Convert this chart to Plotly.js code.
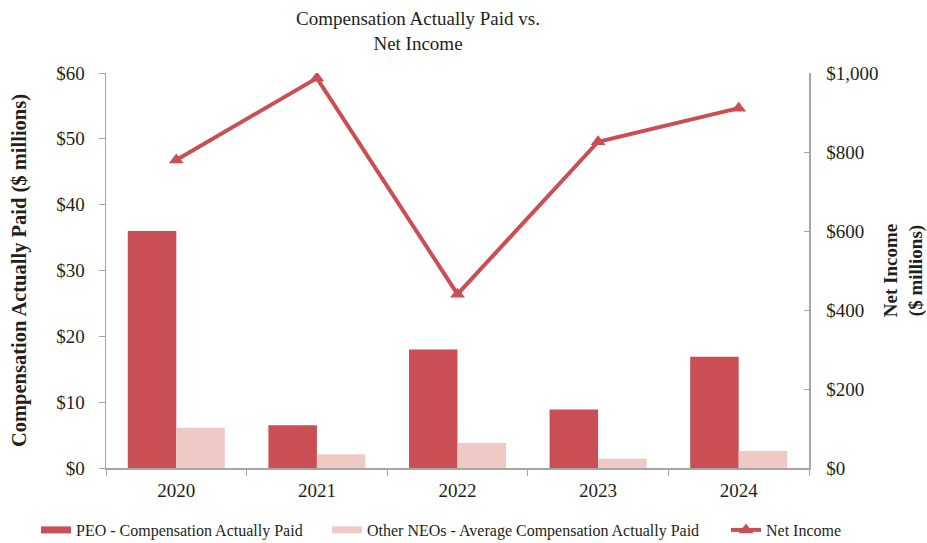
<!DOCTYPE html>
<html>
<head>
<meta charset="utf-8">
<script src="https://cdn.plot.ly/plotly-3.0.1.min.js"></script>
<style>html,body{margin:0;padding:0;background:#fff}#chart{width:927px;height:543px}</style>
</head>
<body>
<div id="chart"></div>
<script>
var years = ["2020", "2021", "2022", "2023", "2024"];
var peoCap = [36.0, 6.5, 18.0, 8.9, 16.9];
var otherNeoCap = [6.1, 2.1, 3.8, 1.4, 2.6];
var netIncome = [780, 987, 440, 826, 911];
var leftTicks = [0, 10, 20, 30, 40, 50, 60];
var leftTickText = ["$0", "$10", "$20", "$30", "$40", "$50", "$60"];
var rightTicks = [0, 200, 400, 600, 800, 1000];
var rightTickText = ["$0", "$200", "$400", "$600", "$800", "$1,000"];
var seriesNames = ["PEO - Compensation Actually Paid", "Other NEOs - Average Compensation Actually Paid", "Net Income"];

var serif = "Liberation Serif";
var dark = "#231f20";
var red = "#c94f55";
var pink = "#efc9c3";
var axisGray = "#a6a6a6";

var data = [
  {type: "bar", name: seriesNames[0], x: years, y: peoCap, marker: {color: red}, showlegend: false, hoverinfo: "none"},
  {type: "bar", name: seriesNames[1], x: years, y: otherNeoCap, marker: {color: pink}, showlegend: false, hoverinfo: "none"},
  {type: "scatter", mode: "lines+markers", name: seriesNames[2], x: years, y: netIncome, yaxis: "y2",
   line: {color: red, width: 4}, marker: {symbol: "triangle-up", size: 13, color: red},
   legend: "legend3", hoverinfo: "none"},
  // legend-only entries giving the bars a wide rectangular swatch as in the reference
  {type: "scatter", mode: "lines", name: seriesNames[0], x: [null], y: [null],
   line: {color: red, width: 7}, legend: "legend", hoverinfo: "none"},
  {type: "scatter", mode: "lines", name: seriesNames[1], x: [null], y: [null],
   line: {color: pink, width: 7}, legend: "legend2", hoverinfo: "none"}
];

function leg(xpx) {
  return {orientation: "h", xref: "container", yref: "container", x: xpx / 927, y: 13 / 543,
          xanchor: "left", yanchor: "middle", font: {family: serif, size: 16, color: dark},
          bgcolor: "rgba(0,0,0,0)", borderwidth: 0};
}

var layout = {
  width: 927, height: 543,
  margin: {l: 106, r: 118, t: 73, b: 75},
  paper_bgcolor: "#fff", plot_bgcolor: "#fff",
  font: {family: serif, color: dark, size: 19},
  title: {text: "Compensation Actually Paid vs.<br>Net Income", font: {family: serif, size: 19, color: dark},
          x: 418 / 927, xanchor: "center", xref: "container", y: 1 - 25 / 543, yanchor: "middle", yref: "container"},
  barmode: "group", bargap: 0.31, bargroupgap: 0,
  showlegend: true,
  legend: leg(36),
  legend2: leg(327),
  legend3: leg(726),
  xaxis: {type: "category", showline: true, linecolor: axisGray, linewidth: 1.5,
          ticks: "outside", ticklen: 6, tickcolor: axisGray, tickson: "boundaries", ticklabelstandoff: 5,
          showgrid: false, zeroline: false, tickfont: {family: serif, size: 19, color: dark}},
  yaxis: {range: [0, 60], tickvals: leftTicks, ticktext: leftTickText, showgrid: false, zeroline: false,
          showline: true, linecolor: axisGray, linewidth: 1.5, ticks: "outside", ticklen: 6,
          tickcolor: axisGray, ticklabelstandoff: 10, tickfont: {family: serif, size: 19, color: dark},
          title: {text: "<b>Compensation Actually Paid ($ millions)</b>", font: {family: serif, size: 20.5, color: dark}, standoff: 24}},
  yaxis2: {range: [0, 1000], overlaying: "y", side: "right", tickvals: rightTicks, ticktext: rightTickText,
           showgrid: false, zeroline: false, showline: true, linecolor: axisGray, linewidth: 1.5,
           ticks: "inside", ticklen: 5, tickcolor: axisGray, ticklabelstandoff: 12,
           tickfont: {family: serif, size: 19, color: dark},
           title: {text: "<b>Net Income<br>($ millions)</b>", font: {family: serif, size: 19, color: dark}, standoff: 14}}
};

Plotly.newPlot("chart", data, layout, {staticPlot: true, displayModeBar: false});
</script>
</body>
</html>
